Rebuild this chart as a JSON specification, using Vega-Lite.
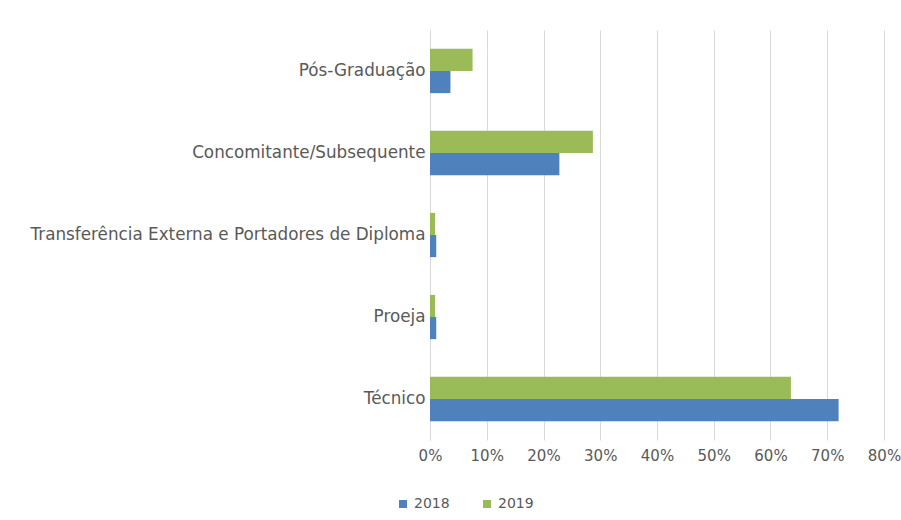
{
  "$schema": "https://vega.github.io/schema/vega-lite/v6.json",
  "autosize": {"type": "none"},
  "padding": {"left": 430, "top": 30, "right": 17, "bottom": 80},
  "width": 454,
  "height": 410,
  "background": "white",
  "config": {"view": {"stroke": null}, "font": "DejaVu Sans"},
  "data": {"values": [
    {"categoria": "Pós-Graduação", "ano": "2018", "valor": 0.036},
    {"categoria": "Pós-Graduação", "ano": "2019", "valor": 0.075},
    {"categoria": "Concomitante/Subsequente", "ano": "2018", "valor": 0.228},
    {"categoria": "Concomitante/Subsequente", "ano": "2019", "valor": 0.287},
    {"categoria": "Transferência Externa e Portadores de Diploma", "ano": "2018", "valor": 0.011},
    {"categoria": "Transferência Externa e Portadores de Diploma", "ano": "2019", "valor": 0.009},
    {"categoria": "Proeja", "ano": "2018", "valor": 0.011},
    {"categoria": "Proeja", "ano": "2019", "valor": 0.009},
    {"categoria": "Técnico", "ano": "2018", "valor": 0.72},
    {"categoria": "Técnico", "ano": "2019", "valor": 0.636}
  ]},
  "mark": {"type": "bar"},
  "encoding": {
    "y": {
      "field": "categoria", "type": "nominal",
      "sort": ["Pós-Graduação", "Concomitante/Subsequente", "Transferência Externa e Portadores de Diploma", "Proeja", "Técnico"],
      "scale": {"paddingInner": 0.46, "paddingOuter": 0.23},
      "axis": {"title": null, "labelFontSize": 16.8, "labelColor": "#595959", "labelPadding": 5, "ticks": false, "domainColor": "#d9d9d9", "labelLimit": 500}
    },
    "yOffset": {"field": "ano", "type": "nominal", "sort": ["2019", "2018"]},
    "x": {
      "field": "valor", "type": "quantitative",
      "scale": {"domain": [0, 0.8], "nice": false},
      "axis": {"title": null, "format": ".0%", "values": [0,0.1,0.2,0.3,0.4,0.5,0.6,0.7,0.8], "labelFontSize": 15, "labelColor": "#595959", "ticks": false, "domain": false, "gridColor": "#d9d9d9", "labelPadding": 8, "labelFlush": false}
    },
    "color": {
      "field": "ano", "type": "nominal",
      "scale": {"domain": ["2018", "2019"], "range": ["#4F81BD", "#9BBB59"]},
      "legend": {"title": null, "orient": "none", "legendX": -34, "legendY": 467, "direction": "horizontal", "symbolType": "square", "symbolSize": 64, "labelFontSize": 14, "labelColor": "#595959", "columnPadding": 30, "symbolOpacity": 1}
    }
  }
}
